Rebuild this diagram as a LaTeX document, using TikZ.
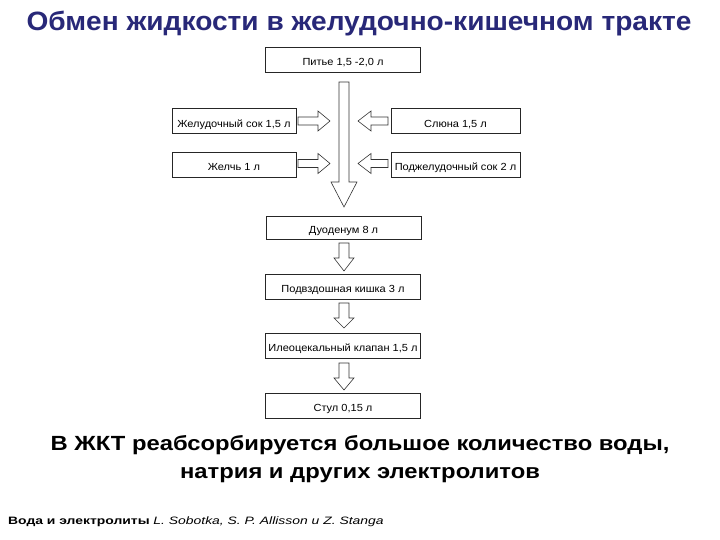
\documentclass[tikz,border=0pt]{standalone}
\usepackage{fontspec}
\setmainfont{Liberation Sans}
\newfontfamily\titlefnt[FakeStretch=1.06]{Liberation Sans}
\newfontfamily\boxfnt[FakeStretch=1.07]{Liberation Sans}
\newfontfamily\conclfnt[FakeStretch=1.16]{Liberation Sans}
\newfontfamily\footfnt[FakeStretch=1.3]{Liberation Sans}
\definecolor{titleblue}{RGB}{40,40,120}
\begin{document}
\begin{tikzpicture}[x=1pt,y=-1pt,
  box/.style={draw=black!85,line width=0.6pt,minimum width=155pt,minimum height=25pt,inner sep=1pt,text height=12.5pt,text depth=0pt,font=\boxfnt\fontsize{10.3}{12}\selectfont},
  sidebox/.style={box,minimum width=124pt},
  blk/.style={draw=black!80,line width=0.6pt,fill=white,line join=miter}]
\useasboundingbox (0,0) rectangle (720,540);
% title
\node[font=\titlefnt\fontsize{26.5}{30}\selectfont\bfseries,text=titleblue] (title) at (359,24) {Обмен жидкости в желудочно-кишечном тракте};
% boxes
\node[box] (pit) at (343,59.5) {Питье 1,5 -2,0 л};
\node[sidebox] (zhs) at (234,121) {Желудочный сок 1,5 л};
\node[sidebox,minimum width=129pt] (slu) at (455.5,121) {Слюна 1,5 л};
\node[sidebox] (zhel) at (234,164.5) {Желчь 1 л};
\node[sidebox,minimum width=129pt] (podzh) at (455.5,164.5) {Поджелудочный сок 2 л};
\node[box,minimum height=23pt] (duo) at (343.5,227.5) {Дуоденум 8 л};
\node[box] (podv) at (343,286.5) {Подвздошная кишка 3 л};
\node[box] (ileo) at (343,345.5) {Илеоцекальный клапан 1,5 л};
\node[box] (stul) at (343,405.5) {Стул 0,15 л};
% big arrow
\draw[blk] (339,82) -- (349,82) -- (349,182) -- (357,182) -- (344,207) -- (331,182) -- (339,182) -- cycle;
% side arrows (right-pointing)
\draw[blk] (298,117) -- (318,117) -- (318,111) -- (330,121) -- (318,131) -- (318,125) -- (298,125) -- cycle;
\draw[blk] (298,159.5) -- (318,159.5) -- (318,153.5) -- (330,163.5) -- (318,173.5) -- (318,167.5) -- (298,167.5) -- cycle;
% side arrows (left-pointing)
\draw[blk] (388,117) -- (371,117) -- (371,111) -- (358,121) -- (371,131) -- (371,125) -- (388,125) -- cycle;
\draw[blk] (388,159.5) -- (371,159.5) -- (371,153.5) -- (358,163.5) -- (371,173.5) -- (371,167.5) -- (388,167.5) -- cycle;
% small down arrows
\foreach \t/\h/\e in {243/258/271, 303/318/328, 363/378/390}{
  \draw[blk] (339,\t) -- (349,\t) -- (349,\h) -- (354,\h) -- (344,\e) -- (334,\h) -- (339,\h) -- cycle;
}
% conclusion
\node[font=\conclfnt\fontsize{20.5}{28}\selectfont\bfseries,align=center] (concl) at (360,459) {В ЖКТ реабсорбируется большое количество воды,\\натрия и других электролитов};
% footer
\node[anchor=west,font=\footfnt\fontsize{10.7}{13}\selectfont,inner sep=0pt] (foot) at (8,522) {\textbf{Вода и электролиты} \textit{L. Sobotka, S. P. Allisson и Z. Stanga}};
\end{tikzpicture}
\end{document}
